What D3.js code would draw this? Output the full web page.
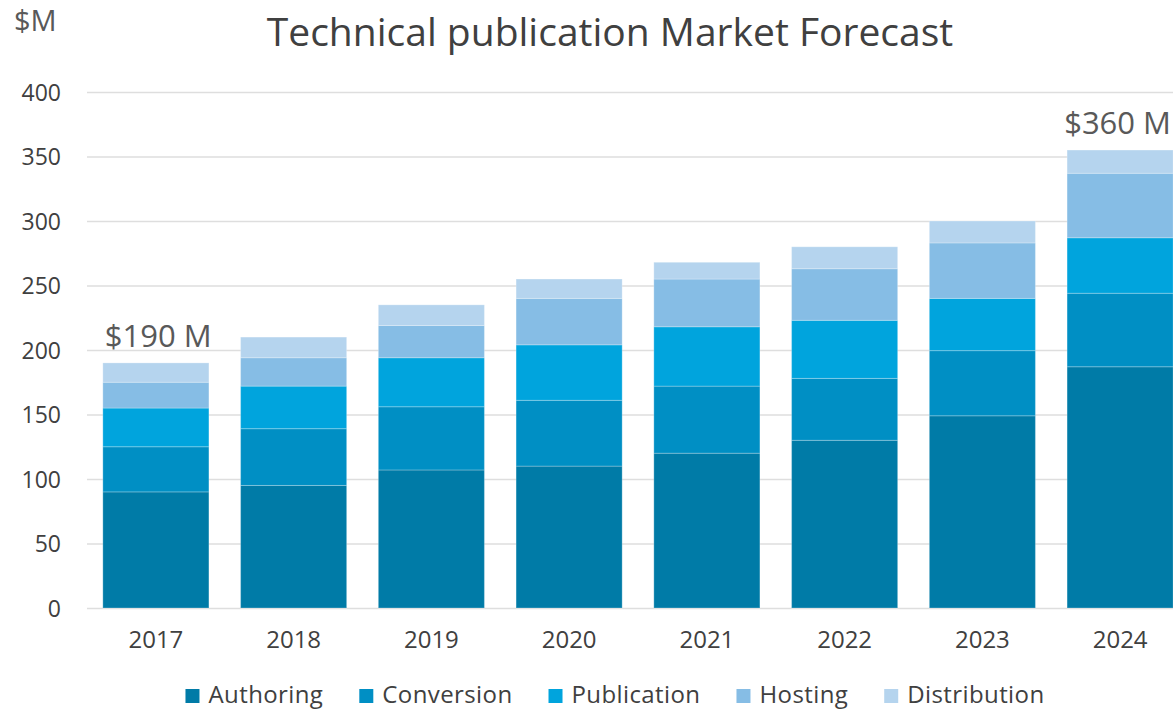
<!DOCTYPE html>
<html>
<head>
<meta charset="utf-8">
<script src="https://cdnjs.cloudflare.com/ajax/libs/d3/7.8.5/d3.min.js"></script>
<style>
    body { margin: 0; background: #fff; }
    text { font-family: "Open Sans", sans-serif; }
</style>
</head>
<body>
<svg id="chart" width="1173" height="710"></svg>
<script>
    // values, $M
    var years = ["2017", "2018", "2019", "2020", "2021", "2022", "2023", "2024"];
    var series = ["Authoring", "Conversion", "Publication", "Hosting", "Distribution"];
    var authoring = [90, 95, 107, 110, 120, 130, 149, 187];
    var conversion = [35, 44, 49, 51, 52, 48, 50.5, 57];
    var publication = [30, 33, 38, 43, 46, 45, 40.5, 43];
    var hosting = [20, 22, 25, 36, 37, 40, 43, 50];
    var distribution = [15, 16, 16, 15, 13, 17, 17, 18];
    var colors = ["#007ba7", "#008fc4", "#00a4dd", "#86bde5", "#b5d4ee"];
    var yTicks = [0, 50, 100, 150, 200, 250, 300, 350, 400];
    var callouts = [{ year: "2017", text: "$190 M" }, { year: "2024", text: "$360 M" }];

    var svg = d3.select("#chart");
    var W = 1173;
    var margin = { left: 87, top: 92, bottom: 608 };

    var rows = years.map(function(y, i) {
        return {
            year: y,
            Authoring: authoring[i],
            Conversion: conversion[i],
            Publication: publication[i],
            Hosting: hosting[i],
            Distribution: distribution[i]
        };
    });

    // the last bar runs off the right edge, as in the original
    var x = d3.scaleBand()
        .domain(years)
        .range([margin.left, 1189])
        .paddingInner(0.23)
        .paddingOuter(0.115);

    var y = d3.scaleLinear()
        .domain([0, 400])
        .range([margin.bottom, margin.top]);

    var color = d3.scaleOrdinal().domain(series).range(colors);

    // gridlines
    svg.append("g")
        .selectAll("line")
        .data(yTicks)
        .enter().append("line")
        .attr("x1", margin.left)
        .attr("x2", W)
        .attr("y1", function(d) { return y(d) + 0.5; })
        .attr("y2", function(d) { return y(d) + 0.5; })
        .attr("stroke", "#dedede")
        .attr("stroke-width", 1.5);

    // y axis labels
    var yAxis = svg.append("g")
        .attr("transform", "translate(61,0)")
        .call(d3.axisLeft(y).tickValues(yTicks).tickSize(0).tickPadding(0));
    yAxis.select(".domain").remove();
    yAxis.selectAll("text")
        .attr("fill", "#404040")
        .attr("dy", "0.36em")
        .style("font-size", "23px")
        .style("font-family", "'Open Sans', sans-serif");

    // stacked bars
    var stack = d3.stack().keys(series)(rows);
    svg.append("g")
        .selectAll("g")
        .data(stack)
        .enter().append("g")
        .attr("fill", function(d) { return color(d.key); })
        .selectAll("rect")
        .data(function(d) { return d; })
        .enter().append("rect")
        .attr("x", function(d) { return x(d.data.year); })
        .attr("width", x.bandwidth())
        .attr("y", function(d) { return y(d[1]); })
        .attr("height", function(d) { return y(d[0]) - y(d[1]); })
        .attr("stroke", "rgba(255,255,255,0.25)")
        .attr("stroke-width", 1);

    // x axis labels
    var xAxis = svg.append("g")
        .attr("transform", "translate(0," + (margin.bottom + 40) + ")")
        .call(d3.axisBottom(x).tickSize(0).tickPadding(0));
    xAxis.select(".domain").remove();
    xAxis.selectAll("text")
        .attr("dy", 0)
        .attr("fill", "#404040")
        .style("font-size", "24px")
        .style("font-family", "'Open Sans', sans-serif");

    // title and unit
    svg.append("text")
        .attr("x", 610)
        .attr("y", 46)
        .attr("text-anchor", "middle")
        .attr("fill", "#404040")
        .style("font-size", "39px")
        .text("Technical publication Market Forecast");

    svg.append("text")
        .attr("x", 14)
        .attr("y", 31)
        .attr("fill", "#595959")
        .style("font-size", "29px")
        .text("$M");

    // total callouts
    var totals = rows.map(function(r) {
        return d3.sum(series, function(k) { return r[k]; });
    });
    svg.selectAll(".callout")
        .data(callouts)
        .enter().append("text")
        .attr("class", "callout")
        .attr("y", function(d) { return y(totals[years.indexOf(d.year)]) - 16; })
        .attr("fill", "#595959")
        .style("font-size", "31px")
        .text(function(d) { return d.text; })
        .attr("x", function(d) {
            // keep the label inside the page
            return Math.min(x(d.year) + 2, W - 2 - this.getComputedTextLength());
        });

    // legend, laid out from measured label widths
    var legend = svg.append("g");
    var items = legend.selectAll("g")
        .data(series)
        .enter().append("g");
    items.append("rect")
        .attr("y", 689)
        .attr("width", 14)
        .attr("height", 14)
        .attr("fill", function(d) { return color(d); });
    items.append("text")
        .attr("x", 23)
        .attr("y", 703)
        .attr("fill", "#404040")
        .style("font-size", "24px")
        .style("letter-spacing", "0.4px")
        .text(function(d) { return d; });

    var gap = 36;
    var cursor = 0;
    var offsets = [];
    items.each(function() {
        offsets.push(cursor);
        cursor += 23 + this.querySelector("text").getComputedTextLength() + gap;
    });
    var start = 615 - (cursor - gap) / 2;
    items.attr("transform", function(d, i) { return "translate(" + (start + offsets[i]) + ",0)"; });
</script>
</body>
</html>
